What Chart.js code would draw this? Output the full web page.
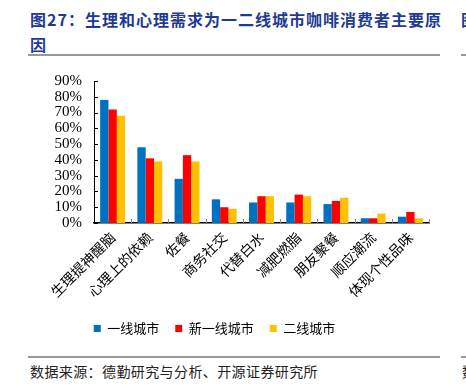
<!DOCTYPE html>
<html>
<head>
<meta charset="utf-8">
<script src="https://cdn.jsdelivr.net/npm/chart.js@4.4.0/dist/chart.umd.min.js"></script>
<style>
  html, body { margin:0; padding:0; background:#fff; width:466px; height:390px; overflow:hidden; position:relative; }
  .title { position:absolute; left:30px; top:7px; font-family:"Noto Sans CJK SC"; font-weight:bold; font-size:16px; letter-spacing:1px; line-height:24.5px; color:#1f3a93; white-space:nowrap; }
  .title2 { position:absolute; left:461px; top:7px; font-family:"Noto Sans CJK SC"; font-weight:bold; font-size:16px; line-height:24.5px; color:#1f3a93; }
  .rule { position:absolute; height:2px; background:#999; }
  .src { position:absolute; left:30px; top:361px; font-family:"Noto Sans CJK SC"; font-size:14px; letter-spacing:0.4px; line-height:20px; color:#222; white-space:nowrap; }
  .src2 { position:absolute; left:462px; top:361px; font-family:"Noto Sans CJK SC"; font-size:14px; line-height:20px; color:#222; }
  #wrap { position:absolute; left:0; top:60px; width:466px; height:290px; }
</style>
</head>
<body>
<div class="title">图27：生理和心理需求为一二线城市咖啡消费者主要原<br>因</div>
<div class="title2">图</div>
<div class="rule" style="left:28px; top:54px; width:412px;"></div>
<div class="rule" style="left:461px; top:54px; width:10px;"></div>
<div class="rule" style="left:28px; top:356px; width:412px;"></div>
<div class="rule" style="left:461px; top:356px; width:10px;"></div>
<div class="src">数据来源：德勤研究与分析、开源证券研究所</div>
<div class="src2">数</div>
<div id="wrap"><canvas id="c" width="466" height="290"></canvas></div>
<script>
const categories = ["生理提神醒脑","心理上的依赖","佐餐","商务社交","代替白水","减肥燃脂","朋友聚餐","顺应潮流","体现个性品味"];
const seriesNames = ["一线城市","新一线城市","二线城市"];
const tier1 = [78, 48, 28, 15, 13, 13, 12, 3, 4];
const newTier1 = [72, 41, 43, 10, 17, 18, 14, 3, 7];
const tier2 = [68, 39, 39, 9, 17, 17, 16, 6, 3];
const yTicks = [0,10,20,30,40,50,60,70,80,90];
const colors = ["#0070C0","#FF0000","#FFC000"];

const innerTicks = {
  id:'innerTicks',
  afterDraw(chart){
    const ctx = chart.ctx;
    const x = chart.scales.x, y = chart.scales.y;
    ctx.save();
    ctx.lineWidth = 1;
    ctx.strokeStyle = '#888';
    const n = categories.length;
    const w = (x.right - x.left)/n;
    for (let k=1;k<=n;k++){
      const px = Math.round(x.left + k*w) + 0.5;
      ctx.beginPath(); ctx.moveTo(px, y.bottom); ctx.lineTo(px, y.bottom-4); ctx.stroke();
    }
    ctx.strokeStyle = '#000';
    yTicks.forEach(v=>{
      const py = Math.round(y.getPixelForValue(v)) + 0.5;
      ctx.beginPath(); ctx.moveTo(x.left, py); ctx.lineTo(x.left+4, py); ctx.stroke();
    });
    ctx.restore();
  }
};

new Chart(document.getElementById('c'), {
  type:'bar',
  data:{
    labels: categories,
    datasets: [tier1, newTier1, tier2].map((d,i)=>({
      label: seriesNames[i], data: d, backgroundColor: colors[i],
      categoryPercentage: 0.67, barPercentage: 1.0, borderWidth: 0
    }))
  },
  options:{
    responsive:false, animation:false,
    layout:{ padding:{ left:0, right:37, top:16, bottom:5 } },
    plugins:{
      legend:{ position:'bottom', labels:{ boxWidth:7, boxHeight:7, padding:16, color:'#000', font:{ family:'Noto Sans CJK SC', size:13 } } },
      tooltip:{ enabled:false }
    },
    scales:{
      x:{
        grid:{ display:false, drawTicks:false },
        border:{ color:'#000', width:1.5 },
        ticks:{ minRotation:45, maxRotation:45, autoSkip:false, color:'#000', padding:6, font:{ family:'Noto Sans CJK SC', size:14 } },
        afterFit(s){ s.height = 83; }
      },
      y:{
        min:0, max:90,
        afterBuildTicks(s){ s.ticks = yTicks.map(v=>({value:v})); },
        grid:{ display:false, drawTicks:false },
        border:{ color:'#000', width:1 },
        ticks:{ autoSkip:false, color:'#000', padding:12, callback:v=>v+'%', font:{ family:'Liberation Serif', size:15 } },
        afterFit(s){ s.width = 94; }
      }
    }
  },
  plugins:[innerTicks]
});
</script>
</body>
</html>
